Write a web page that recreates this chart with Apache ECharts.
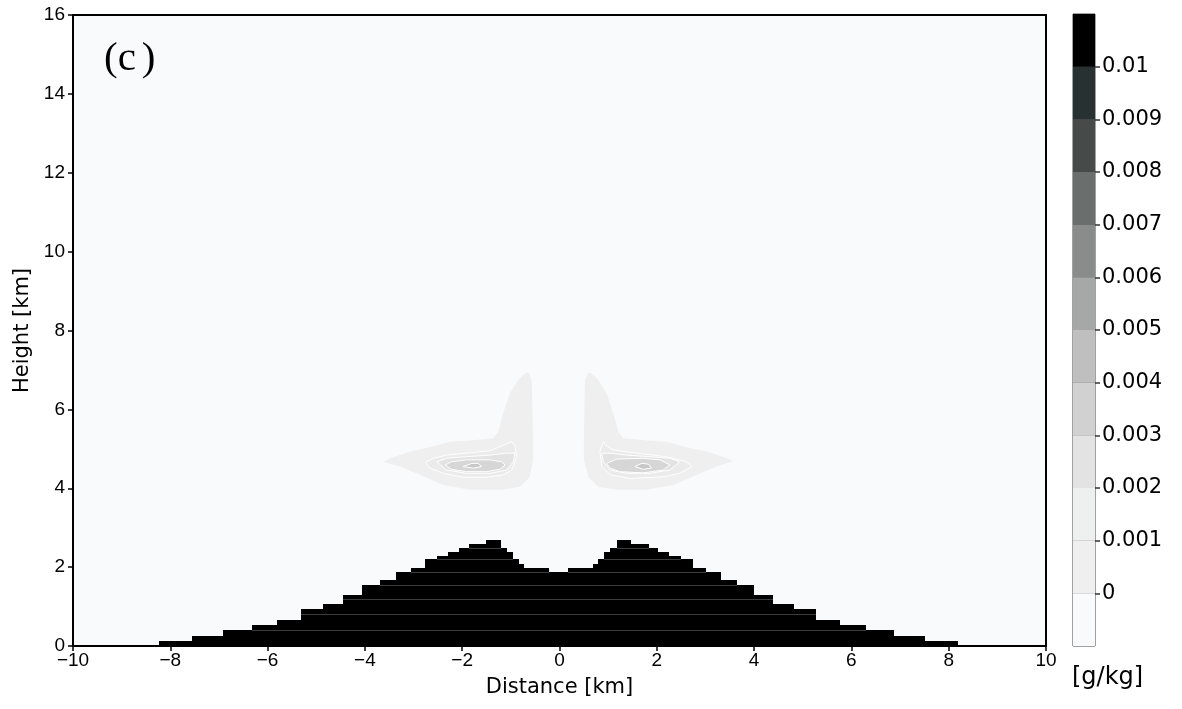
<!DOCTYPE html>
<html>
<head>
<meta charset="utf-8">
<script src="https://cdn.jsdelivr.net/npm/echarts/dist/echarts.min.js"></script>
<style>
  html, body { margin: 0; padding: 0; background: #ffffff; }
  #chart { width: 1182px; height: 709px; }
</style>
</head>
<body>
<div id="chart"></div>
<script>
// axes
var xTicks = [-10, -8, -6, -4, -2, 0, 2, 4, 6, 8, 10];
var yTicks = [0, 2, 4, 6, 8, 10, 12, 14, 16];

// terrain steps: [x start, x end, height] in km
var terrainSteps = [
  [-8.23, -7.55, 0.127], [-7.55, -6.92, 0.26], [-6.92, -6.33, 0.40], [-6.33, -5.80, 0.53],
  [-5.80, -5.31, 0.67], [-5.31, -4.86, 0.93], [-4.86, -4.44, 1.06], [-4.44, -4.05, 1.30],
  [-4.05, -3.69, 1.55], [-3.69, -3.36, 1.67], [-3.36, -3.05, 1.88], [-3.05, -2.77, 1.98],
  [-2.77, -2.52, 2.20], [-2.52, -2.285, 2.28], [-2.285, -2.07, 2.38], [-2.07, -1.87, 2.48],
  [-1.87, -1.51, 2.59], [-1.51, -1.21, 2.69], [-1.21, -1.085, 2.48], [-1.085, -0.95, 2.38],
  [-0.95, -0.83, 2.20], [-0.83, -0.73, 2.09], [-0.73, -0.22, 1.98], [-0.22, 0.18, 1.88],
  [0.18, 0.695, 1.98], [0.695, 0.80, 2.09], [0.80, 0.915, 2.20], [0.915, 1.04, 2.38],
  [1.04, 1.175, 2.48], [1.175, 1.476, 2.69], [1.476, 1.83, 2.59], [1.83, 2.03, 2.48],
  [2.03, 2.25, 2.38], [2.25, 2.49, 2.28], [2.49, 2.74, 2.20], [2.74, 3.02, 1.98],
  [3.02, 3.32, 1.88], [3.32, 3.65, 1.67], [3.65, 4.005, 1.55], [4.005, 4.39, 1.30],
  [4.39, 4.81, 1.06], [4.81, 5.27, 0.93], [5.27, 5.76, 0.67], [5.76, 6.29, 0.53],
  [6.29, 6.87, 0.40], [6.87, 7.51, 0.26], [7.51, 8.19, 0.127]
];
// model levels seen as faint lines inside the terrain
var terrainLayers = [0.40, 0.80, 1.18, 1.54, 1.87, 2.20, 2.48];

// contour regions of the left blob, outermost first [x km, z km]
var leftBlob = [
  [[-0.64, 6.94], [-0.57, 6.74], [-0.54, 5.22], [-0.54, 4.72], [-0.61, 4.29], [-0.81, 4.04],
   [-1.155, 3.96], [-1.84, 3.96], [-2.39, 4.08], [-2.87, 4.34], [-3.28, 4.55], [-3.62, 4.67],
   [-3.48, 4.76], [-3.07, 4.93], [-2.66, 5.04], [-2.25, 5.18], [-1.84, 5.21], [-1.36, 5.27],
   [-1.26, 5.43], [-1.155, 5.90], [-1.02, 6.41], [-0.85, 6.74], [-0.71, 6.91]],
  [[-2.76, 4.65], [-2.59, 4.76], [-2.32, 4.84], [-1.91, 4.89], [-1.43, 4.95], [-0.98, 5.18],
   [-0.915, 5.06], [-0.88, 4.80], [-0.98, 4.46], [-1.155, 4.34], [-1.50, 4.28], [-1.98, 4.28],
   [-2.39, 4.38], [-2.66, 4.51]],
  [[-2.52, 4.67], [-2.32, 4.76], [-1.91, 4.80], [-1.43, 4.84], [-1.09, 4.89], [-0.915, 4.89],
   [-0.95, 4.67], [-1.085, 4.46], [-1.43, 4.38], [-1.91, 4.38], [-2.32, 4.46]],
  [[-2.35, 4.59], [-2.22, 4.67], [-1.91, 4.72], [-1.43, 4.72], [-1.19, 4.67], [-1.12, 4.59],
   [-1.22, 4.48], [-1.50, 4.42], [-1.91, 4.42], [-2.22, 4.48]],
  [[-1.98, 4.55], [-1.80, 4.63], [-1.67, 4.63], [-1.60, 4.55], [-1.77, 4.51]]
];
// contour regions of the right blob
var rightBlob = [
  [[0.59, 6.94], [0.524, 6.74], [0.50, 5.22], [0.50, 4.72], [0.59, 4.29], [0.80, 4.04],
   [1.175, 3.96], [1.79, 3.96], [2.34, 4.08], [2.82, 4.34], [3.23, 4.55], [3.57, 4.69],
   [3.44, 4.76], [3.03, 4.93], [2.61, 5.04], [2.20, 5.18], [1.79, 5.21], [1.31, 5.27],
   [1.21, 5.43], [1.105, 5.90], [0.97, 6.41], [0.80, 6.74], [0.66, 6.91]],
  [[0.90, 5.18], [0.83, 4.93], [0.87, 4.55], [1.04, 4.34], [1.45, 4.25], [2.13, 4.29],
   [2.48, 4.38], [2.72, 4.55], [2.61, 4.67], [2.20, 4.80], [1.59, 4.89], [1.105, 4.97],
   [0.935, 5.10]],
  [[0.87, 4.89], [1.04, 4.89], [1.38, 4.84], [1.86, 4.80], [2.27, 4.76], [2.47, 4.67],
   [2.27, 4.46], [1.86, 4.38], [1.38, 4.38], [1.04, 4.46], [0.90, 4.67]],
  [[0.97, 4.63], [1.175, 4.74], [1.72, 4.76], [2.07, 4.72], [2.27, 4.59], [2.13, 4.46],
   [1.72, 4.39], [1.24, 4.42], [1.04, 4.51]],
  [[1.55, 4.55], [1.69, 4.63], [1.83, 4.61], [1.89, 4.51], [1.72, 4.48]]
];
var blobShades = ['#efefef', '#ebebeb', '#e3e3e3', '#d6d6d6', '#c8c8c8'];

// colour bar [g/kg]
var cbEdges = [-0.001, 0, 0.001, 0.002, 0.003, 0.004, 0.005, 0.006, 0.007, 0.008, 0.009, 0.01, 0.011];
var cbColors = ['#f9fafc', '#eeefee', '#eef0ef', '#e2e3e2', '#d0d1d0', '#bebfbe',
                '#a6a8a7', '#8a8c8b', '#6a6e6c', '#464b49', '#283132', '#000000'];
var cbLabels = ['0', '0.001', '0.002', '0.003', '0.004', '0.005', '0.006', '0.007', '0.008', '0.009', '0.01'];

var blobs = [leftBlob, rightBlob];
var blobData = [];
blobs.forEach(function (b, bi) {
  b.forEach(function (poly, li) { blobData.push([bi, li]); });
});
var cbData = cbColors.map(function (c, i) { return [0, cbEdges[i], cbEdges[i + 1], i]; });
var cbTickValues = cbEdges.slice(1, -1);

var chart = echarts.init(document.getElementById('chart'), null, { renderer: 'canvas' });

function minus(v) { return String(v).replace('-', '\u2212'); }

var option = {
  backgroundColor: '#ffffff',
  animation: false,
  grid: [
    { left: 73, right: 136, top: 15, bottom: 63, show: true, backgroundColor: '#f9fafc',
      borderColor: '#000', borderWidth: 2 },
    { left: 1073, width: 22, top: 14, bottom: 63, show: true, backgroundColor: 'transparent',
      borderColor: '#444', borderWidth: 1 }
  ],
  xAxis: [
    { type: 'value', gridIndex: 0, min: -10, max: 10, interval: 2,
      name: 'Distance [km]', nameLocation: 'middle', nameGap: 31,
      nameTextStyle: { fontFamily: 'DejaVu Sans', fontSize: 21, color: '#000' },
      axisLine: { show: true, onZero: false, lineStyle: { color: '#000', width: 2 } },
      axisTick: { show: true, length: 5, lineStyle: { color: '#000', width: 1.5 } },
      axisLabel: { color: '#000', fontFamily: 'Liberation Sans', fontSize: 19, margin: 5,
        formatter: function (v) { return xTicks.indexOf(v) >= 0 ? minus(v) : ''; } },
      splitLine: { show: false } },
    { type: 'value', gridIndex: 1, min: 0, max: 1, show: false }
  ],
  yAxis: [
    { type: 'value', gridIndex: 0, min: 0, max: 16, interval: 2,
      name: 'Height [km]', nameLocation: 'middle', nameGap: 37,
      nameTextStyle: { fontFamily: 'DejaVu Sans', fontSize: 21, color: '#000' },
      axisLine: { show: true, onZero: false, lineStyle: { color: '#000', width: 2 } },
      axisTick: { show: true, length: 5, lineStyle: { color: '#000', width: 1.5 } },
      axisLabel: { color: '#000', fontFamily: 'Liberation Sans', fontSize: 19, margin: 8,
        formatter: function (v) { return yTicks.indexOf(v) >= 0 ? String(v) : ''; } },
      splitLine: { show: false } },
    { type: 'value', gridIndex: 1, min: -0.001, max: 0.011, interval: 0.001, position: 'right',
      axisLine: { show: false, onZero: false },
      axisTick: { show: true, length: 5, customValues: cbTickValues, lineStyle: { color: '#333', width: 1.5 } },
      axisLabel: { color: '#000', fontFamily: 'DejaVu Sans', fontSize: 21, margin: 7,
        formatter: function (v) {
          var k = Math.round(v * 1000);
          return (k >= 0 && k <= 10) ? cbLabels[k] : '';
        } },
      splitLine: { show: true, lineStyle: { color: '#333', width: 1.5 } } }
  ],
  graphic: [
    { type: 'text', left: 104, top: 39, z: 100,
      style: { text: '{a|(c}{b|)}', fill: '#000',
        rich: { a: { fontFamily: 'Liberation Serif', fontSize: 41, fill: '#000' },
                b: { fontFamily: 'Liberation Serif', fontSize: 41, fill: '#000', padding: [0, 0, 0, 6] } } } },
    { type: 'text', left: 1072, top: 666,
      style: { text: '[g/kg]', fontFamily: 'DejaVu Sans', fontSize: 24, fill: '#000' } }
  ],
  series: [
    { type: 'custom', xAxisIndex: 0, yAxisIndex: 0, data: blobData, z: 2, clip: true,
      renderItem: function (params, api) {
        var bi = api.value(0), li = api.value(1);
        var pts = blobs[bi][li].map(function (p) { return api.coord(p); });
        return { type: 'polygon', shape: { points: pts },
          style: { fill: blobShades[li], stroke: li > 0 ? '#ffffff' : null, lineWidth: 1 } };
      } },
    { type: 'custom', xAxisIndex: 0, yAxisIndex: 0, data: terrainSteps, z: 3, clip: true,
      renderItem: function (params, api) {
        var x0 = api.value(0), x1 = api.value(1), h = api.value(2);
        var a = api.coord([x0, h]), b = api.coord([x1, 0]);
        var left = Math.round(a[0]), right = Math.round(b[0]);
        var top = Math.round(a[1]), bottom = Math.round(b[1]);
        var children = [{ type: 'rect',
          shape: { x: left, y: top, width: right - left, height: bottom - top },
          style: { fill: '#000' } }];
        terrainLayers.forEach(function (lv) {
          if (lv < h - 0.05) {
            var y = Math.round(api.coord([x0, lv])[1]) + 0.5;
            children.push({ type: 'line', shape: { x1: left, y1: y, x2: right, y2: y },
              style: { stroke: '#3c3c3c', lineWidth: 1 } });
          }
        });
        return { type: 'group', children: children };
      } },
    { type: 'custom', xAxisIndex: 1, yAxisIndex: 1, data: cbData, z: 1,
      renderItem: function (params, api) {
        var lo = api.value(1), hi = api.value(2), i = api.value(3);
        var a = api.coord([0, hi]), b = api.coord([1, lo]);
        return { type: 'rect', shape: { x: a[0], y: a[1], width: b[0] - a[0], height: b[1] - a[1] },
          style: { fill: cbColors[i] } };
      } }
  ]
};

chart.setOption(option);
</script>
</body>
</html>
